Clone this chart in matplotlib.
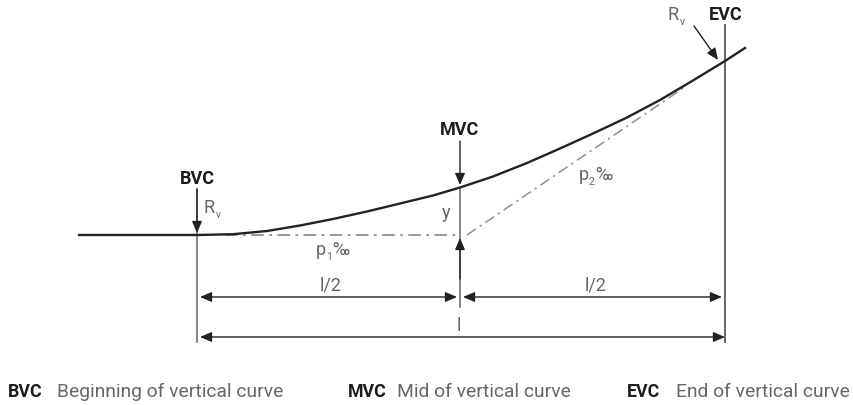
import matplotlib
matplotlib.use("Agg")
import matplotlib.pyplot as plt

# everything is in image pixels, y pointing down
curve_x = [79, 197, 233, 267, 300, 333, 367, 400, 433, 460, 493, 527, 560, 593, 627, 660, 693, 725, 745]
curve_y = [236, 236, 235.2, 232, 226.5, 220, 212.5, 204.5, 196.5, 188.5, 177.5, 164, 149.5, 134.5, 118.5, 101, 81.5, 62, 49]
tangent1_x = [225, 460]
tangent1_y = [236, 236]
tangent2_x = [467, 685]
tangent2_y = [236, 88]

bvc_x, mvc_x, evc_x = 197, 460, 725

GREY = "#666666"
INK = "#1c1c1c"
plt.rcParams["font.family"] = ["Roboto", "DejaVu Sans"]

fig = plt.figure(figsize=(8.54, 4.06), dpi=100)
ax = fig.add_axes([0, 0, 1, 1])
ax.set_xlim(0, 854)
ax.set_ylim(406, 0)
ax.axis("off")


def arrow(start, end, style="-|>"):
    ax.annotate("", xy=end, xytext=start,
                arrowprops=dict(arrowstyle=style + ",head_length=0.7,head_width=0.3",
                                color="#222222", lw=1.0, shrinkA=0, shrinkB=0))


# vertical station lines
ax.plot([bvc_x, bvc_x], [190, 343], color=GREY, lw=1.1)
ax.plot([mvc_x, mvc_x], [189, 308], color=GREY, lw=1.1)
ax.plot([evc_x, evc_x], [26, 343], color=GREY, lw=1.4)

# tangents and curve
ax.plot(tangent1_x, tangent1_y, color="#8f8f8f", lw=1.3, dashes=(7, 3, 1.5, 3))
ax.plot(tangent2_x, tangent2_y, color="#8f8f8f", lw=1.1, dashes=(7, 3, 1.5, 3))
ax.plot(curve_x, curve_y, color="#222222", lw=1.7)

# station arrows
arrow((bvc_x, 190), (bvc_x, 234))
arrow((mvc_x, 142), (mvc_x, 186))
arrow((mvc_x, 280), (mvc_x, 239))
arrow((694, 27), (718, 61))

# dimension lines
arrow((200, 298), (457, 298), "<|-|>")
arrow((463, 298), (722, 298), "<|-|>")
arrow((200, 338), (725, 338), "<|-|>")

# labels
for x, y, s in [(197, 179, "BVC"), (460, 130, "MVC"), (726, 15, "EVC")]:
    ax.text(x, y, s, ha="center", va="center", fontsize=13, fontweight="bold", color=INK)


def subscripted(x, y, main, sub, sub_dx, tail=""):
    ax.text(x, y, main, ha="left", va="center", fontsize=13, color=GREY)
    ax.text(x + sub_dx, y + 7, sub, ha="left", va="center", fontsize=7.5, color=GREY)
    if tail:
        ax.text(x + 16, y, tail, ha="left", va="center", fontsize=13, color=GREY)


subscripted(204, 208, "R", "v", 12)
subscripted(668, 15, "R", "v", 12)
subscripted(316, 250, "p", "1", 10, "‰")
subscripted(579, 175, "p", "2", 10, "‰")

ax.text(446, 213, "y", ha="center", va="center", fontsize=13, color=GREY)
ax.text(331, 286, "l/2", ha="center", va="center", fontsize=13, color=GREY)
ax.text(596, 286, "l/2", ha="center", va="center", fontsize=13, color=GREY)
ax.text(459, 326, "l", ha="center", va="center", fontsize=13, color=GREY)

# legend row
for x, s in [(8, "BVC"), (348, "MVC"), (627, "EVC")]:
    ax.text(x, 392, s, ha="left", va="center", fontsize=12.8, fontweight="bold", color=INK)
for x, s in [(57, "Beginning of vertical curve"), (397, "Mid of vertical curve"),
             (676, "End of vertical curve")]:
    ax.text(x, 392, s, ha="left", va="center", fontsize=13.9, color=GREY)

fig.savefig("out.png", dpi=100)
